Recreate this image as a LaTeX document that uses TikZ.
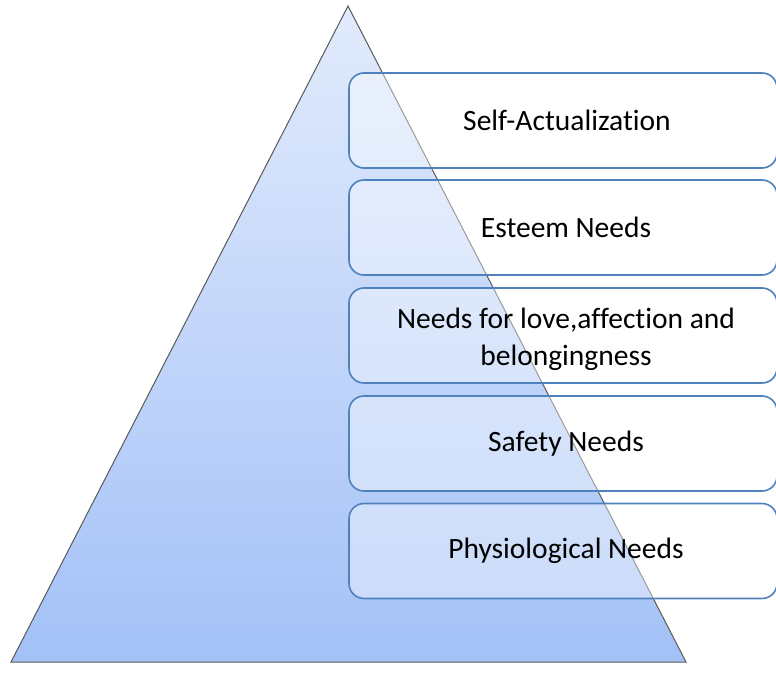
\documentclass[tikz,border=0pt]{standalone}
\usepackage{fontspec}
\setmainfont[Ligatures=NoCommon]{Carlito}
\begin{document}
\begin{tikzpicture}[x=1pt,y=-1pt,
  needbox/.style={draw=boxblue, line width=1.6pt, rounded corners=15pt, fill=white, fill opacity=0.4,
    minimum width=428pt, minimum height=95pt, inner sep=0pt},
  needtext/.style={align=center, inner sep=0pt, font=\fontsize{29.5}{37}\selectfont, text=black},
]
\definecolor{boxblue}{HTML}{4F81BD}
\definecolor{toptri}{HTML}{E2EBFC}
\definecolor{bottri}{HTML}{A3C1F7}
\useasboundingbox (0,0) rectangle (776,679);
\clip (0,0) rectangle (776,679);
% pyramid
\shade[top color=toptri, bottom color=bottri] (348,6) -- (686,662) -- (11,662) -- cycle;
\draw[draw=gray!70!black, line width=1pt] (348,6) -- (686,662) -- (11,662) -- cycle;
% boxes
\node[needbox] (b1) at (563,120.5) {};
\node[needbox] (b2) at (563,227.5) {};
\node[needbox] (b3) at (563,335.5) {};
\node[needbox] (b4) at (563,443.5) {};
\node[needbox] (b5) at (563,551) {};
% labels
\node[needtext] (t1) at ([xshift=4pt]b1.center) {Self-Actualization};
\node[needtext] (t2) at ([xshift=3pt]b2.center) {Esteem Needs};
\node[needtext] (t3) at ([xshift=3pt,yshift=-4pt]b3.center) {Needs for love,affection and\\belongingness};
\node[needtext] (t4) at ([xshift=3pt]b4.center) {Safety Needs};
\node[needtext] (t5) at ([xshift=3pt]b5.center) {Physiological Needs};
\end{tikzpicture}
\end{document}
